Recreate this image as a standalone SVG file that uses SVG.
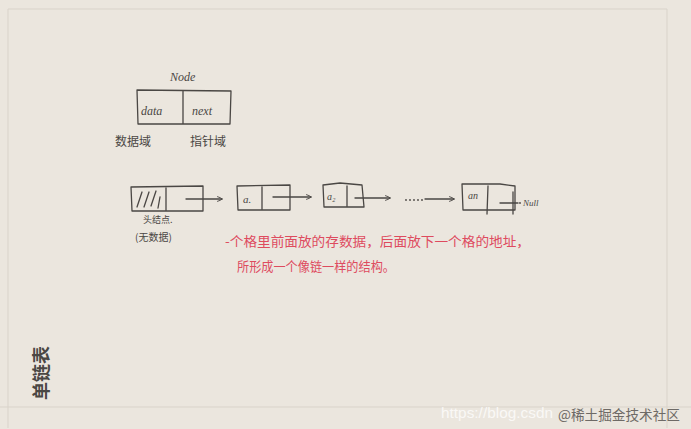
<svg xmlns="http://www.w3.org/2000/svg" width="691" height="429" viewBox="0 0 691 429">
<defs>
<style>
.ink{fill:none;stroke:#4a4744;stroke-width:1.3;stroke-linecap:round;stroke-linejoin:round}
.hw{font-family:"Liberation Serif","Noto Sans CJK SC",serif;font-style:italic;fill:#4a4744}
.cn{font-family:"Noto Sans CJK SC",sans-serif;fill:#4a4744}
.red{font-family:"Noto Sans CJK SC",sans-serif;fill:#de4b5e;font-size:13px}
.frame{fill:none;stroke:#d9d3ca;stroke-width:1}
.dot{fill:#4a4744}
</style>
<marker id="ah" viewBox="0 0 10 10" refX="8" refY="5" markerWidth="7" markerHeight="7" orient="auto" markerUnits="userSpaceOnUse">
<path d="M1,1.5 Q6,3 8.5,5 Q6,7 1,8.5" fill="none" stroke="#4a4744" stroke-width="1.3"/>
</marker>
</defs>
<rect width="691" height="429" fill="#ebe6de"/>
<path class="frame" d="M8,428 V9 H667 V428"/>
<path class="frame" d="M0,407 H691"/>

<g id="node-template">
<text class="hw" x="170" y="81" font-size="12">Node</text>
<path class="ink" d="M137,90 L231,91 L230,124 L138,124 Z M183,91 L183,124"/>
<text class="hw" x="141" y="115" font-size="12">data</text>
<text class="hw" x="192" y="115" font-size="12">next</text>
<text class="cn" x="115" y="146" font-size="12">数据域</text>
<text class="cn" x="190" y="146" font-size="12">指针域</text>
</g>

<g id="head">
<path class="ink" d="M131,187 L203,186 L203,211 L132,211 Z M166,188 L166,210"/>
<path class="ink" d="M137,207 L142,192 M144,207 L149,192 M151,206 L156,191 M158,208 L160,197"/>
<text class="cn" x="143" y="223" font-size="9">头结点.</text>
<text class="cn" x="135" y="241" font-size="10">(无数据)</text>
</g>

<g id="a1">
<path class="ink" d="M237,186 L290,185 L290,210 L238,210 Z M262,187 L262,209"/>
<text class="hw" x="243" y="203" font-size="11">a.</text>
</g>

<g id="a2">
<path class="ink" d="M323,185 L340,183 L362,185 L364,207 L324,207 Z M347,186 L347,206"/>
<text class="hw" x="327" y="200" font-size="10">a₂</text>
</g>

<g id="an">
<path class="ink" d="M462,184 L500,184 L515,186 L515,210 L463,210 Z M488,186 L487,214 M513,192 L513,214"/>
<text class="hw" x="468" y="199" font-size="10">an</text>
</g>

<g id="connectors">
<path class="ink" d="M186,199 L222,199" marker-end="url(#ah)"/>
<path class="ink" d="M273,197 L311,197" marker-end="url(#ah)"/>
<path class="ink" d="M355,198 L390,198" marker-end="url(#ah)"/>
<circle class="dot" cx="406" cy="200" r="0.9"/>
<circle class="dot" cx="410" cy="200" r="0.9"/>
<circle class="dot" cx="414" cy="200" r="0.9"/>
<circle class="dot" cx="418" cy="200" r="0.9"/>
<circle class="dot" cx="422" cy="200" r="0.9"/>
<path class="ink" d="M425,199 L454,199" marker-end="url(#ah)"/>
<path class="ink" d="M500,203 L518,203"/>
<circle cx="520" cy="203" r="0.9" fill="#4a4744"/>
</g>
<text class="hw" x="523" y="206" font-size="9">Null</text>

<g id="note">
<text class="red" x="225" y="246" textLength="305" lengthAdjust="spacingAndGlyphs">-个格里前面放的存数据，后面放下一个格的地址，</text>
<text class="red" x="237" y="271" textLength="158" lengthAdjust="spacingAndGlyphs">所形成一个像链一样的结构。</text>
</g>

<text class="cn" transform="translate(48,400) rotate(-90)" font-size="18" font-weight="bold" fill="#3a3836">单链表</text>

<g id="watermark">
<text x="441" y="418" font-family="Liberation Sans,sans-serif" font-size="15" fill="#ffffff" fill-opacity="0.75" textLength="112" lengthAdjust="spacingAndGlyphs">https://blog.csdn</text>
<text x="558" y="420" font-family="Noto Sans CJK SC,sans-serif" font-size="14" fill="#6e6a66" textLength="122" lengthAdjust="spacingAndGlyphs">@稀土掘金技术社区</text>
</g>
</svg>
